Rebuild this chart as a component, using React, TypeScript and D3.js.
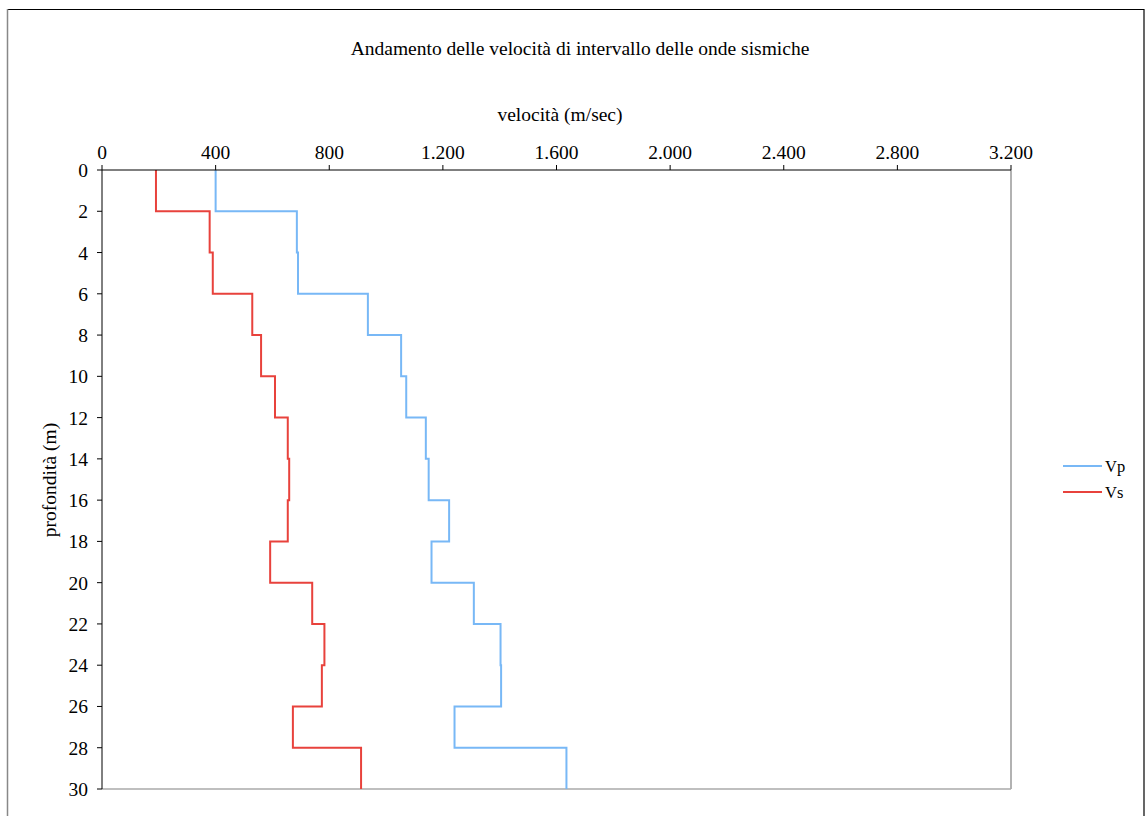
import React from "react";
import * as d3 from "d3";

const depthTop = [0, 2, 4, 6, 8, 10, 12, 14, 16, 18, 20, 22, 24, 26, 28];
const depthBottom = [2, 4, 6, 8, 10, 12, 14, 16, 18, 20, 22, 24, 26, 28, 30];
const vp = [400, 686, 690, 936, 1053, 1071, 1140, 1150, 1222, 1160, 1309, 1403, 1405, 1241, 1635];
const vs = [190, 379, 390, 529, 560, 609, 654, 659, 654, 592, 740, 783, 774, 672, 912];
const xTicks = [0, 400, 800, 1200, 1600, 2000, 2400, 2800, 3200];
const yTicks = [0, 2, 4, 6, 8, 10, 12, 14, 16, 18, 20, 22, 24, 26, 28, 30];
const seriesNames = ["Vp", "Vs"];
const colors = ["#78b8f6", "#e8423c"];

const W = 1146;
const H = 816;
const left = 102;
const right = 1011;
const top = 170;
const bottom = 789;

const fmt = (v: number) => d3.format(",")(v).replace(/,/g, ".");

export default function App() {
  const x = d3.scaleLinear().domain([0, 3200]).range([left, right]);
  const y = d3.scaleLinear().domain([0, 30]).range([top, bottom]);
  const line = d3
    .line<[number, number]>()
    .x((d) => x(d[0]))
    .y((d) => y(d[1]));
  const pts = (vals: number[]) => {
    const p: [number, number][] = [];
    vals.forEach((v, i) => {
      p.push([v, depthTop[i]]);
      p.push([v, depthBottom[i]]);
    });
    return p;
  };
  const font = "'Liberation Serif', 'Times New Roman', serif";
  const fs = 19.5;
  return (
    <svg
      width={W}
      height={H}
      style={{ position: "absolute", left: 0, top: 0, background: "#fff" }}
      fontFamily={font}
    >
      <rect x={0} y={0} width={W} height={H} fill="#fff" />
      {/* outer frame */}
      <line x1={7} y1={9.5} x2={1144} y2={9.5} stroke="#000" strokeWidth={1.2} />
      <line x1={7.5} y1={9} x2={7.5} y2={H} stroke="#888" strokeWidth={1.5} />
      <line x1={1144} y1={9} x2={1144} y2={H} stroke="#000" strokeWidth={1.2} />

      <text x={580} y={55} textAnchor="middle" fontSize={fs} fill="#000">
        Andamento delle velocità di intervallo delle onde sismiche
      </text>
      <text x={560} y={121} textAnchor="middle" fontSize={fs} fill="#000">
        velocità (m/sec)
      </text>
      <text
        transform={`translate(56,480) rotate(-90)`}
        textAnchor="middle"
        fontSize={fs}
        fill="#000"
      >
        profondità (m)
      </text>

      {/* plot border right/bottom */}
      <line x1={right} y1={top} x2={right} y2={bottom} stroke="#999" strokeWidth={1.5} />
      <line x1={left} y1={bottom} x2={right} y2={bottom} stroke="#aaa" strokeWidth={1.5} />

      {/* series */}
      {[vp, vs].map((vals, i) => (
        <path
          key={i}
          d={line(pts(vals)) || ""}
          fill="none"
          stroke={colors[i]}
          strokeWidth={2}
        />
      ))}

      {/* top axis */}
      <line x1={left} y1={top} x2={right} y2={top} stroke="#000" strokeWidth={1} />
      {xTicks.map((t) => (
        <g key={t}>
          <line x1={x(t)} y1={top} x2={x(t)} y2={top - 5} stroke="#000" />
          <text x={x(t)} y={159} textAnchor="middle" fontSize={fs} fill="#000">
            {fmt(t)}
          </text>
        </g>
      ))}

      {/* left axis */}
      <line x1={left} y1={top} x2={left} y2={bottom} stroke="#000" strokeWidth={1} />
      {yTicks.map((t) => (
        <g key={t}>
          <line x1={left} y1={y(t)} x2={left - 5} y2={y(t)} stroke="#000" />
          <text x={88} y={y(t) + 7} textAnchor="end" fontSize={fs} fill="#000">
            {t}
          </text>
        </g>
      ))}

      {/* legend */}
      {seriesNames.map((n, i) => (
        <g key={n}>
          <line
            x1={1063}
            y1={466 + i * 26}
            x2={1102}
            y2={466 + i * 26}
            stroke={colors[i]}
            strokeWidth={2}
          />
          <text x={1105} y={472 + i * 26} fontSize={16.5} fill="#000">
            {n}
          </text>
        </g>
      ))}
    </svg>
  );
}
